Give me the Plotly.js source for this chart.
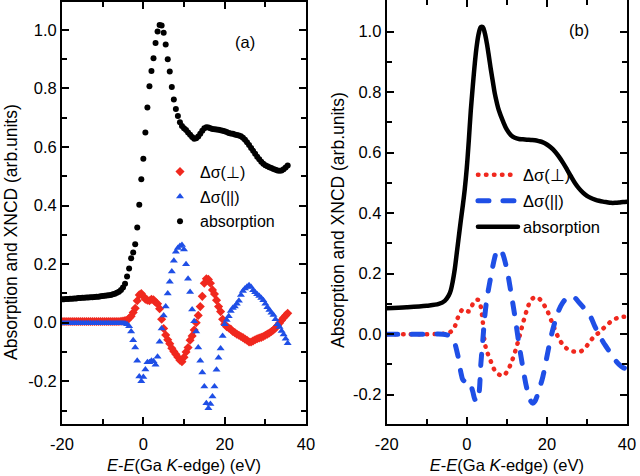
<!DOCTYPE html>
<html>
<head>
<meta charset="utf-8">
<script src="https://cdn.plot.ly/plotly-3.0.1.min.js"></script>
<style>
html,body{margin:0;padding:0;background:#fff;}
#chart{width:640px;height:476px;}
#chart path.js-line{stroke-linecap:round;}
</style>
</head>
<body>
<div id="chart"></div>
<script>
// ---------- Panel (a): experimental points ----------
const energyA = [-20,-19.5,-19,-18.5,-18,-17.5,-17,-16.5,-16,-15.5,
  -15,-14.5,-14,-13.5,-13,-12.5,-12,-11.5,-11,-10.5,
  -10,-9.5,-9,-8.5,-8,-7.5,-7,-6.5,-6,-5.5,
  -5,-4.5,-4,-3.5,-3,-2.5,-2,-1.5,-1,-0.5,
  0,0.5,1,1.5,2,2.5,3,3.5,4,4.5,
  5,5.5,6,6.5,7,7.5,8,8.5,9,9.5,
  10,10.5,11,11.5,12,12.5,13,13.5,14,14.5,
  15,15.5,16,16.5,17,17.5,18,18.5,19,19.5,
  20,20.5,21,21.5,22,22.5,23,23.5,24,24.5,
  25,25.5,26,26.5,27,27.5,28,28.5,29,29.5,
  30,30.5,31,31.5,32,32.5,33,33.5,34,34.5,
  35,35.5];
const absorptionA = [0.080,0.080,0.081,0.081,0.082,0.082,0.083,0.083,0.084,0.084,
  0.085,0.085,0.086,0.086,0.087,0.087,0.088,0.089,0.089,0.090,
  0.091,0.092,0.093,0.094,0.095,0.097,0.099,0.102,0.106,0.112,
  0.120,0.133,0.158,0.185,0.220,0.240,0.268,0.325,0.403,0.490,
  0.560,0.650,0.735,0.808,0.860,0.903,0.955,0.995,1.017,1.015,
  0.990,0.950,0.900,0.858,0.805,0.762,0.730,0.706,0.685,0.672,
  0.664,0.658,0.650,0.642,0.634,0.628,0.630,0.636,0.645,0.656,
  0.664,0.668,0.667,0.664,0.662,0.661,0.660,0.659,0.657,0.656,
  0.654,0.651,0.648,0.646,0.645,0.643,0.641,0.639,0.637,0.632,
  0.625,0.616,0.607,0.597,0.587,0.577,0.567,0.558,0.550,0.543,
  0.538,0.534,0.531,0.528,0.525,0.522,0.520,0.519,0.520,0.524,
  0.530,0.537];
const perpA = [0.004,0.004,0.004,0.004,0.004,0.004,0.004,0.004,0.004,0.004,
  0.004,0.004,0.004,0.004,0.004,0.004,0.004,0.004,0.004,0.004,
  0.004,0.004,0.004,0.004,0.004,0.004,0.004,0.004,0.004,0.005,
  0.006,0.007,0.008,0.015,0.022,0.035,0.049,0.075,0.095,0.100,
  0.090,0.080,0.077,0.075,0.080,0.078,0.070,0.065,0.048,0.012,
  -0.020,-0.042,-0.058,-0.072,-0.087,-0.098,-0.108,-0.118,-0.128,-0.133,
  -0.118,-0.100,-0.085,-0.060,-0.045,-0.025,0.000,0.025,0.055,0.090,
  0.135,0.150,0.148,0.135,0.112,0.098,0.077,0.055,0.038,0.012,
  -0.005,-0.014,-0.018,-0.022,-0.030,-0.034,-0.039,-0.043,-0.047,-0.051,
  -0.056,-0.060,-0.066,-0.066,-0.062,-0.058,-0.055,-0.052,-0.050,-0.047,
  -0.043,-0.039,-0.035,-0.030,-0.025,-0.018,-0.010,-0.001,0.008,0.017,
  0.025,0.032];
const parA = [-0.002,-0.002,-0.002,-0.002,-0.002,-0.002,-0.002,-0.002,-0.002,-0.002,
  -0.002,-0.002,-0.002,-0.002,-0.002,-0.002,-0.002,-0.002,-0.002,-0.002,
  -0.002,-0.002,-0.002,-0.002,-0.002,-0.002,-0.002,-0.002,-0.002,-0.002,
  -0.002,-0.003,-0.005,-0.012,-0.030,-0.060,-0.085,-0.130,-0.184,-0.200,
  -0.185,-0.160,-0.135,-0.135,-0.130,-0.132,-0.144,-0.116,-0.065,-0.020,
  0.025,0.055,0.100,0.140,0.175,0.212,0.242,0.255,0.262,0.265,
  0.250,0.200,0.150,0.105,0.045,0.005,-0.030,-0.085,-0.130,-0.170,
  -0.218,-0.275,-0.292,-0.278,-0.252,-0.218,-0.161,-0.120,-0.088,-0.045,
  -0.005,0.009,0.022,0.040,0.050,0.055,0.065,0.075,0.095,0.108,
  0.117,0.123,0.128,0.122,0.111,0.104,0.097,0.091,0.084,0.077,
  0.065,0.053,0.043,0.034,0.026,0.012,-0.005,-0.015,-0.028,-0.040,
  -0.055,-0.070];

// ---------- Panel (b): calculated curves ----------
const energyAbsB = [-20,-15,-10,-7,-5.5,-4.5,-4,-3.5,-3,-2.5,-2,-1.5,-1,-0.5,0,0.5,1,1.5,2,2.5,3,3.5,4,4.5,5,5.5,6,6.5,7,7.5,8,9,10,11,12,13,14,15,16,17,18,19,20,21,22,23,24,25,26,27,28,29,30,31,32,33,34,35,36,37,38,39,40];
const absorptionB = [0.086,0.089,0.094,0.100,0.110,0.128,0.145,0.175,0.215,0.268,0.322,0.375,0.425,0.480,0.550,0.640,0.740,0.820,0.895,0.955,0.995,1.015,1.015,0.995,0.962,0.920,0.875,0.835,0.795,0.765,0.740,0.705,0.676,0.658,0.649,0.645,0.644,0.643,0.642,0.641,0.638,0.634,0.627,0.617,0.604,0.587,0.567,0.545,0.522,0.500,0.482,0.468,0.457,0.450,0.445,0.441,0.438,0.436,0.434,0.434,0.435,0.437,0.438];
const energyPerpB = [-20,-15,-10,-6,-5,-4,-3.5,-3,-2.5,-2,-1.5,-1,-0.5,0,0.5,1,1.5,2,2.5,3,3.5,4,4.5,5,6,7,8,9,10,11,12,13,14,15,16,17,18,19,20,21,22,23,24,25,26,27,28,29,30,31,32,33,34,35,36,37,38,39,40];
const perpB = [0,0,0,0.001,0.003,0.008,0.015,0.025,0.045,0.062,0.075,0.082,0.082,0.078,0.075,0.085,0.100,0.110,0.114,0.112,0.090,0.040,-0.030,-0.055,-0.090,-0.120,-0.133,-0.138,-0.125,-0.098,-0.060,-0.015,0.035,0.080,0.112,0.122,0.118,0.102,0.080,0.048,0.015,-0.015,-0.035,-0.048,-0.055,-0.058,-0.058,-0.053,-0.038,-0.020,-0.005,0.005,0.018,0.030,0.042,0.050,0.055,0.057,0.058];
const energyParB = [-20,-15,-10,-6,-5,-4,-3.5,-3,-2.5,-2,-1.5,-1,-0.5,0,0.5,1,1.5,2,2.5,3,3.5,4,4.5,5,6,7,7.5,8,8.5,9,10,11,12,13,14,15,16,16.5,17,18,19,20,21,22,23,24,25,26,27,28,29,30,31,32,33,34,35,36,37,38,39,40];
const parB = [0,0,0,0,-0.002,-0.008,-0.015,-0.030,-0.055,-0.085,-0.125,-0.150,-0.155,-0.152,-0.155,-0.168,-0.190,-0.215,-0.222,-0.200,-0.100,-0.020,0.060,0.115,0.190,0.255,0.275,0.280,0.278,0.265,0.215,0.140,0.060,-0.030,-0.110,-0.180,-0.222,-0.228,-0.222,-0.185,-0.140,-0.075,-0.010,0.040,0.080,0.105,0.120,0.126,0.120,0.105,0.090,0.075,0.055,0.025,0.000,-0.025,-0.045,-0.065,-0.085,-0.100,-0.110,-0.115];

// ---------- Labels ----------
const seriesNames = ['\u0394\u03c3(\u22a5)', '\u0394\u03c3(||)', 'absorption'];
const xTickVals = [-20, 0, 20, 40];
const xTickText = ['-20', '0', '20', '40'];
const yTickVals = [-0.2, 0, 0.2, 0.4, 0.6, 0.8, 1.0];
const yTickText = ['-0.2', '0.0', '0.2', '0.4', '0.6', '0.8', '1.0'];
const xTitle = '<i>E</i>-<i>E</i>(Ga <i>K</i>-edge) (eV)';
const yTitle = 'Absorption and XNCD (arb.units)';
const panelLabels = ['(a)', '(b)'];

const FONT = 'Arial, "Liberation Sans", sans-serif';
const FS = 16.5;
const RED = '#f0281e';
const BLUE = '#1f4fe6';

const traces = [
  {x: energyA, y: perpA, name: seriesNames[0], type: 'scatter', mode: 'markers',
   marker: {symbol: 'diamond', size: 7, color: RED}, xaxis: 'x', yaxis: 'y', legend: 'legend', legendgroup: 'a1'},
  {x: energyA, y: parA, name: seriesNames[1], type: 'scatter', mode: 'markers',
   marker: {symbol: 'triangle-up', size: 7, color: BLUE}, xaxis: 'x', yaxis: 'y', legend: 'legend', legendgroup: 'a2'},
  {x: energyA, y: absorptionA, name: seriesNames[2], type: 'scatter', mode: 'markers',
   marker: {symbol: 'circle', size: 6, color: '#000'}, xaxis: 'x', yaxis: 'y', legend: 'legend', legendgroup: 'a3'},
  {x: energyPerpB, y: perpB, name: seriesNames[0], type: 'scatter', mode: 'lines',
   line: {color: RED, width: 4.5, dash: '0.5px,7.5px', shape: 'spline', smoothing: 1}, xaxis: 'x2', yaxis: 'y2', legend: 'legend2', legendgroup: 'b1'},
  {x: energyParB, y: parB, name: seriesNames[1], type: 'scatter', mode: 'lines',
   line: {color: BLUE, width: 5, dash: '11px,14px', shape: 'spline', smoothing: 1}, xaxis: 'x2', yaxis: 'y2', legend: 'legend2', legendgroup: 'b2'},
  {x: energyAbsB, y: absorptionB, name: seriesNames[2], type: 'scatter', mode: 'lines',
   line: {color: '#000', width: 4.5, shape: 'spline', smoothing: 1}, xaxis: 'x2', yaxis: 'y2', legend: 'legend2', legendgroup: 'b3'}
];

function xAxis(domain, anchor) {
  return {
    domain: domain, anchor: anchor, range: [-20, 40],
    tickmode: 'array', tickvals: xTickVals, ticktext: xTickText,
    showline: true, linewidth: 2, linecolor: '#000', mirror: 'allticks',
    ticks: 'inside', ticklen: 7, tickwidth: 2, tickcolor: '#000',
    minor: {tickmode: 'linear', tick0: -20, dtick: 10, ticks: 'inside', ticklen: 5, tickwidth: 2, tickcolor: '#000', showgrid: false},
    showgrid: false, zeroline: false, automargin: false, ticklabelstandoff: 4,
    tickfont: {family: FONT, size: FS, color: '#000'},
    title: {text: xTitle, font: {family: FONT, size: FS, color: '#000'}, standoff: 8}
  };
}
function yAxis(domain, anchor, range) {
  return {
    domain: domain, anchor: anchor, range: range,
    tickmode: 'array', tickvals: yTickVals, ticktext: yTickText,
    showline: true, linewidth: 2, linecolor: '#000', mirror: 'allticks',
    ticks: 'inside', ticklen: 7, tickwidth: 2, tickcolor: '#000',
    minor: {tickmode: 'linear', tick0: 0, dtick: 0.1, ticks: 'inside', ticklen: 5, tickwidth: 2, tickcolor: '#000', showgrid: false},
    showgrid: false, zeroline: false, automargin: false,
    tickfont: {family: FONT, size: FS, color: '#000'}
  };
}

const titleFont = {family: FONT, size: 17.5, color: '#000'};
const layout = {
  width: 640, height: 476,
  margin: {l: 0, r: 0, t: 0, b: 0},
  paper_bgcolor: '#fff', plot_bgcolor: '#fff',
  font: {family: FONT, size: FS, color: '#000'},
  showlegend: true,
  xaxis: xAxis([0.0969, 0.4781], 'y'),
  yaxis: yAxis([0.1092, 0.9968], 'x', [-0.346, 1.097]),
  xaxis2: xAxis([0.6042, 0.9797], 'y2'),
  yaxis2: yAxis([0.1092, 0.999], 'x2', [-0.297, 1.103]),
  legend: {x: 0.25, y: 0.675, xanchor: 'left', yanchor: 'top', bgcolor: 'rgba(0,0,0,0)',
           font: {family: FONT, size: 16, color: '#000'}, itemwidth: 30, traceorder: 'grouped', tracegroupgap: 1},
  legend2: {x: 0.739, y: 0.669, xanchor: 'left', yanchor: 'top', bgcolor: 'rgba(0,0,0,0)',
           font: {family: FONT, size: FS, color: '#000'}, itemwidth: 40, traceorder: 'grouped', tracegroupgap: 1.5},
  annotations: [
    {text: panelLabels[0], xref: 'x', yref: 'y', x: 25, y: 0.96, showarrow: false, font: {family: FONT, size: FS, color: '#000'}},
    {text: panelLabels[1], xref: 'x2', yref: 'y2', x: 28.1, y: 1.006, showarrow: false, font: {family: FONT, size: FS, color: '#000'}},
    {text: yTitle, xref: 'paper', yref: 'paper', x: 11 / 640, y: 1 - 232 / 476, xanchor: 'center', yanchor: 'middle',
     textangle: -90, showarrow: false, font: titleFont},
    {text: yTitle, xref: 'paper', yref: 'paper', x: 338 / 640, y: 1 - 220 / 476, xanchor: 'center', yanchor: 'middle',
     textangle: -90, showarrow: false, font: titleFont}
  ]
};

Plotly.newPlot('chart', traces, layout, {staticPlot: true, displayModeBar: false});
</script>
</body>
</html>
